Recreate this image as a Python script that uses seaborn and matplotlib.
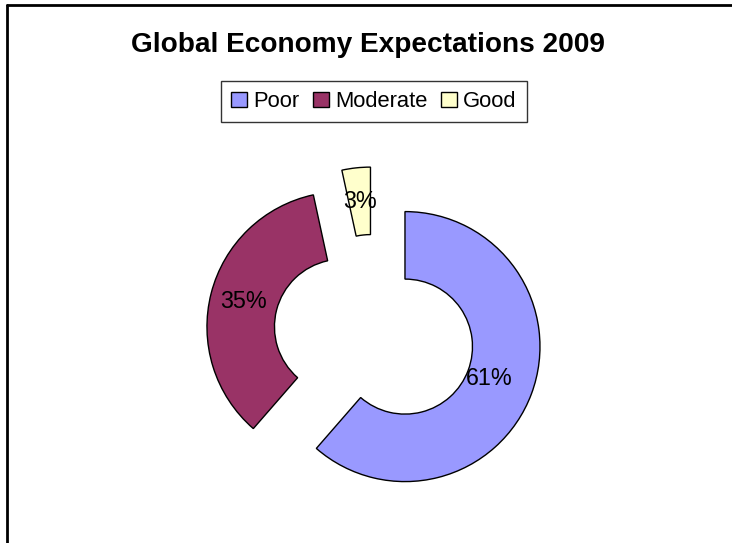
import matplotlib
matplotlib.use("Agg")
import matplotlib.pyplot as plt
import seaborn as sns

# expectations for the global economy, 2009 (share of answers)
categories = ["Poor", "Moderate", "Good"]
shares = [61.4, 35.2, 3.4]
colors = ["#9999FF", "#993366", "#FFFFCC"]

sns.set_theme(style="white")
plt.rcParams["font.family"] = ["Liberation Sans", "DejaVu Sans"]
plt.rcParams["text.color"] = "black"

fig = plt.figure(figsize=(7.32, 5.43), dpi=100)
fig.patch.set_facecolor("white")

# donut area, square in pixels
ax = fig.add_axes([174 / 732, 8 / 543, 400 / 732, 400 / 543])
wedges, texts, autotexts = ax.pie(
    shares,
    colors=colors,
    startangle=90,
    counterclock=False,
    explode=[0.245] * len(shares),
    autopct="%.0f%%",
    pctdistance=0.75,
    wedgeprops=dict(width=0.5, edgecolor="black", linewidth=1.0),
    textprops=dict(fontsize=16.8, color="black"),
)
# the big slice has its label a bit nearer the hole
px, py = autotexts[0].get_position()
autotexts[0].set_position((px * 0.92, py * 0.92))

lim = 200 / 135
ax.set_xlim(-lim, lim)
ax.set_ylim(-lim, lim)
ax.set_aspect("equal")
ax.axis("off")

fig.text(0.503, 1 - 45 / 543, "Global Economy Expectations 2009",
         ha="center", va="center", fontsize=20.2, fontweight="bold",
         color="black")

leg = fig.legend(wedges, categories, loc="center", ncol=3,
                 bbox_to_anchor=(374 / 732, 1 - 101.5 / 543),
                 frameon=True, fancybox=False, edgecolor="black",
                 fontsize=15.8, handlelength=0.72, handleheight=0.72,
                 handletextpad=0.3, columnspacing=0.6, borderpad=0.45,
                 borderaxespad=0)
leg.get_frame().set_linewidth(1.0)
for t in leg.get_texts():
    t.set_color("black")

# chart frame: only top and left edges are visible in the picture
fig.add_artist(plt.Line2D([7 / 732, 1], [1 - 4.5 / 543, 1 - 4.5 / 543],
                          color="black", linewidth=2, transform=fig.transFigure))
fig.add_artist(plt.Line2D([7 / 732, 7 / 732], [0, 1 - 4.5 / 543],
                          color="black", linewidth=2, transform=fig.transFigure))

fig.savefig("out.png", dpi=100)
